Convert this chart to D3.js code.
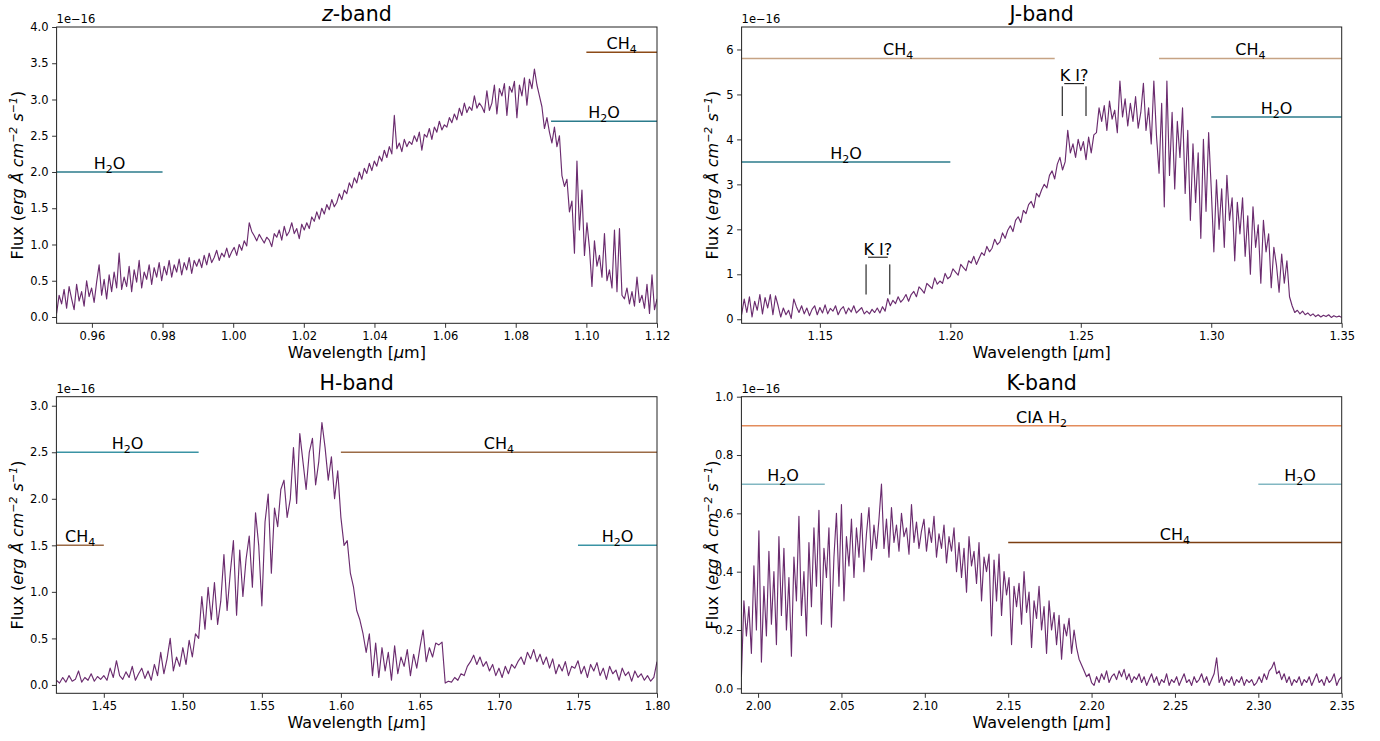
<!DOCTYPE html>
<html>
<head>
<meta charset="utf-8">
<script src="https://cdn.jsdelivr.net/npm/d3@7"></script>
<style>
  body { margin: 0; background: #fff; }
  text { font-family: "DejaVu Sans", sans-serif; }
</style>
</head>
<body>
<svg id="fig" width="1380" height="741"></svg>
<script>
// flux in units of 1e-16, sampled evenly across each band's wavelength range
const zRange = [0.95, 1.12];
const zFlux = [
  0.05,0.30,0.18,0.38,0.12,0.42,0.25,0.10,0.45,0.22,
  0.35,0.15,0.50,0.28,
  0.40,0.20,0.48,0.72,0.30,0.52,0.25,0.58,0.35,0.62,
  0.40,0.88,0.38,0.55,
  0.42,0.70,0.35,0.65,0.48,0.78,0.40,0.62,0.52,0.72,0.45,0.68,0.55,0.75,
  0.50,0.70,0.58,0.78,0.55,0.72,0.62,0.80,0.58,0.75,0.65,0.82,0.60,0.78,0.70,
  0.80,0.68,0.85,0.72,0.88,0.75,0.82,0.92,0.78,0.88,0.83,0.95,0.82,0.90,
  0.96,0.85,1.00,0.92,1.05,0.98,1.30,
  1.18,1.12,1.05,1.14,1.08,1.02,1.10,1.06,
  0.97,1.15,1.10,1.20,1.06,1.25,1.12,1.18,1.30,1.15,1.22,1.08,1.28,1.20,
  1.30,1.22,1.38,1.32,1.45,1.35,1.50,1.42,1.55,1.48,1.62,1.52,1.58,1.70,
  1.62,1.75,1.70,1.85,1.78,1.92,1.85,2.00,1.90,2.05,1.98,2.12,2.02,2.15,
  2.08,2.22,2.15,2.30,2.20,2.35,2.25,2.78,2.32,2.40,2.28,2.45,2.35,2.42,
  2.38,2.50,2.42,2.55,2.30,2.52,2.48,2.60,2.45,2.62,2.55,2.70,2.58,2.65,
  2.62,2.75,2.68,2.80,2.72,2.88,2.78,2.95,2.82,2.90,2.85,3.05,2.88,2.95,
  2.90,2.82,3.12,2.85,2.95,3.20,2.80,3.15,3.05,3.22,2.78,3.18,3.10,3.25,
  2.75,3.20,3.05,3.30,2.92,3.28,3.15,3.42,
  3.20,3.05,2.90,2.60,2.75,2.55,2.40,
  2.62,2.35,2.50,1.95,1.80,1.90,1.45,1.60,0.88,2.15,1.20,1.75,0.85,1.30,
  0.95,0.42,1.05,0.70,0.85,0.55,1.15,0.50,0.65,0.40,1.20,0.35,1.22,0.30,
  0.25,0.40,0.18,0.35,0.15,0.55,0.20,0.30,0.12,0.45,0.05,0.58,0.10,0.25
];

const jRange = [1.12, 1.35];
const jFlux = [
  0.10,0.45,0.15,0.50,0.05,0.40,0.20,0.55,0.12,0.48,0.25,0.55,0.10,0.52,0.30,
  0.05,0.25,0.10,0.20,0.02,0.45,
  0.28,0.15,0.30,0.12,0.25,0.08,0.22,0.30,0.10,0.26,0.14,0.32,0.12,0.24,0.18,0.30,0.10,0.22,0.28,0.12,0.25,0.16,0.30,0.14,0.20,0.26,0.12,
  0.18,0.12,0.22,0.15,0.25,0.14,0.28,0.18,
  0.46,
  0.30,0.42,0.35,0.50,0.38,0.45,0.55,0.40,
  0.55,0.62,0.50,0.72,0.66,0.58,0.80,0.74,0.68,0.92,0.78,0.85,0.80,
  1.02,0.90,0.95,1.12,1.05,0.98,1.22,1.15,1.08,1.30,1.25,1.40,1.22,
  1.35,1.48,1.42,1.62,1.50,1.58,1.78,1.66,1.72,1.92,1.80,1.98,2.08,
  1.95,2.20,2.28,2.15,2.42,2.35,2.55,2.62,2.48,2.80,2.72,2.88,3.00,
  2.92,3.20,3.30,3.12,3.45,3.60,3.32,3.50,
  4.20,
  3.70,3.90,3.60,4.00,3.75,3.95,3.55,4.05,3.70,4.10,
  4.15,4.70,
  4.40,4.75,4.20,4.85,4.45,4.65,4.15,5.30,4.50,4.90,4.30,4.80,4.40,4.95,4.25,4.60,
  5.25,4.20,4.70,3.90,5.30,4.10,3.25,
  4.80,2.50,5.30,3.20,4.60,2.90,4.40,3.60,4.70,2.80,4.20,
  2.20,3.90,2.60,3.70,1.80,4.00,2.40,4.15,2.90,
  1.50,3.10,2.00,2.90,1.60,3.20,2.20,2.70,1.30,2.60,1.90,
  2.70,1.40,2.30,1.00,2.50,1.60,2.10,0.80,2.20,1.50,1.90,0.70,1.60,
  1.20,0.60,1.45,0.80,1.30,0.50,
  0.30,0.15,0.20,
  0.12,0.18,0.10,0.14,0.08,0.12,0.06,0.10,0.05,0.09,0.06,0.10,0.04,0.08,0.05,0.07,0.04
];

const hRange = [1.42, 1.80];
const hFlux = [
  0.05,0.02,0.08,0.03,0.10,0.04,0.06,0.15,0.03,0.08,0.05,0.12,0.04,0.09,0.06,
  0.10,0.05,0.18,0.08,0.26,0.10,0.06,0.14,0.08,0.20,0.05,0.12,0.18,0.07,0.15,
  0.05,0.22,0.10,0.35,0.12,0.28,0.50,0.15,0.30,0.20,
  0.40,0.22,0.48,0.30,0.55,0.50,0.95,0.60,1.05,0.70,
  1.10,0.65,0.90,1.40,0.80,1.20,1.55,0.75,1.45,0.95,
  1.35,1.60,1.05,1.85,1.50,0.85,1.75,2.05,1.20,1.90,
  1.70,2.10,2.20,1.80,2.00,2.55,1.95,2.70,2.40,2.10,
  2.50,2.65,2.15,2.40,2.82,2.55,2.20,2.45,2.00,2.30,
  1.80,1.50,1.55,1.20,1.05,0.80,0.70,0.55,0.35,0.55,
  0.10,0.45,0.08,0.40,0.15,0.35,0.05,0.42,0.12,0.30,0.20,0.38,0.10,0.33,0.18,0.40,0.59,
  0.25,0.40,0.30,0.45,0.43,0.46,
  0.02,
  0.04,0.03,0.08,0.05,0.12,0.10,0.20,
  0.25,0.32,0.22,0.30,0.20,
  0.25,0.15,0.22,0.10,0.18,0.08,0.20,0.12,0.22,0.18,
  0.25,0.30,0.22,0.35,0.28,0.38,0.25,0.33,0.22,0.30,
  0.18,0.28,0.12,0.22,0.15,0.25,0.10,0.20,0.18,0.26,0.12,0.20,0.08,0.22,0.15,
  0.24,0.10,0.18,0.06,0.20,0.12,0.16,0.05,0.18,0.10,0.14,0.04,0.15,0.08,0.12,0.05,0.10,0.04,0.08,0.25
];

const kRange = [1.99, 2.35];
const kFlux = [
  0.04,0.30,0.18,0.28,
  0.12,0.42,0.20,0.54,0.09,
  0.35,0.18,0.47,0.22,0.40,0.15,0.52,0.25,0.48,
  0.20,0.38,0.11,0.45,0.30,0.59,0.25,0.40,0.18,
  0.50,0.28,0.55,0.35,0.61,0.22,0.48,0.38,0.55,0.21,0.45,0.60,0.35,0.63,
  0.30,0.52,0.42,0.58,0.38,0.55,0.45,0.60,0.40,0.53,0.62,0.44,0.56,0.48,0.58,0.70,
  0.48,0.58,0.45,0.62,0.50,0.56,0.47,0.60,0.52,0.55,0.46,0.63,0.50,0.57,0.48,0.54,
  0.58,0.47,0.55,0.50,0.59,0.45,0.53,0.48,0.56,0.43,0.52,0.47,0.55,0.40,
  0.50,0.38,0.48,0.33,0.52,0.42,0.47,0.36,0.50,0.30,0.45,0.40,0.46,0.18,
  0.44,0.30,0.46,0.25,0.40,0.32,0.38,0.15,0.35,0.28,0.36,0.22,0.40,0.26,0.33,0.14,0.30,0.24,0.35,0.20,
  0.28,0.12,0.30,0.20,0.26,0.15,0.25,0.10,0.22,0.18,0.24,0.12,0.20,0.14,0.10,0.08,
  0.06,0.04,0.05,0.02,
  0.01,0.04,0.02,0.05,0.03,0.06,0.02,0.04,0.05,0.03,0.06,0.04,0.065,0.03,0.05,0.02,0.04,0.03,0.05,0.02,
  0.04,0.01,0.03,0.05,0.02,0.04,0.01,0.03,0.02,0.05,0.01,0.03,0.02,0.04,0.01,0.03,0.05,0.02,0.03,0.01,
  0.04,0.02,0.03,0.05,0.02,0.04,0.01,0.03,0.05,0.105,0.02,0.04,0.01,0.03,0.02,0.04,0.01,0.03,0.02,0.04,
  0.01,0.03,0.02,0.03,0.01,0.02,0.04,0.02,0.05,0.03,0.06,0.07,0.09,0.05,0.06,0.03,0.05,0.02,0.04,0.01,
  0.03,0.02,0.04,0.01,0.03,0.02,0.04,0.01,0.03,0.05,0.02,0.03,0.01,0.04,0.02,0.03,0.05,0.01,0.03,0.04
];

// tick values
const zXTicks = [0.96, 0.98, 1.00, 1.02, 1.04, 1.06, 1.08, 1.10, 1.12];
const zYTicks = [0.0, 0.5, 1.0, 1.5, 2.0, 2.5, 3.0, 3.5, 4.0];
const jXTicks = [1.15, 1.20, 1.25, 1.30, 1.35];
const jYTicks = [0, 1, 2, 3, 4, 5, 6];
const hXTicks = [1.45, 1.50, 1.55, 1.60, 1.65, 1.70, 1.75, 1.80];
const hYTicks = [0.0, 0.5, 1.0, 1.5, 2.0, 2.5, 3.0];
const kXTicks = [2.00, 2.05, 2.10, 2.15, 2.20, 2.25, 2.30, 2.35];
const kYTicks = [0.0, 0.2, 0.4, 0.6, 0.8, 1.0];

// absorption bands: [start, end, level, label, label position, kind]
const zBands = [
  [0.95, 0.98, 2.0, "H_2O", 0.965, "h2o"],
  [1.10, 1.12, 3.65, "CH_4", 1.11, "ch4"],
  [1.09, 1.12, 2.7, "H_2O", 1.105, "h2o"]
];
const jBands = [
  [1.12, 1.24, 5.8, "CH_4", 1.18, "ch4light"],
  [1.28, 1.35, 5.8, "CH_4", 1.315, "ch4light"],
  [1.12, 1.20, 3.5, "H_2O", 1.16, "h2o"],
  [1.30, 1.35, 4.5, "H_2O", 1.325, "h2o"]
];
const hBands = [
  [1.42, 1.51, 2.5, "H_2O", 1.465, "h2oH"],
  [1.60, 1.80, 2.5, "CH_4", 1.70, "ch4H"],
  [1.42, 1.45, 1.5, "CH_4", 1.435, "ch4H"],
  [1.75, 1.80, 1.5, "H_2O", 1.775, "h2oH"]
];
const kBands = [
  [1.99, 2.35, 0.9, "CIA H_2", 2.17, "cia"],
  [1.99, 2.04, 0.7, "H_2O", 2.015, "h2olight"],
  [2.30, 2.35, 0.7, "H_2O", 2.325, "h2olight"],
  [2.15, 2.35, 0.5, "CH_4", 2.25, "ch4dark"]
];
// K I doublets in J band: [line1, line2, bottom, top, bar level]
const jKI = [
  [1.1677, 1.1768, 0.55, 1.22, 1.38],
  [1.2429, 1.2520, 4.52, 5.18, 5.24]
];

const bandColors = {
  h2o: "#2b7b8b", h2oH: "#3a93a4", h2olight: "#82b7c2",
  ch4: "#8c4a17", ch4light: "#c6a384", ch4H: "#9b6b46", ch4dark: "#7c3e12",
  cia: "#e38c5c"
};

const panels = [
  {id: "z", title: "z-band", flux: zFlux, range: zRange, xDomain: [0.95, 1.12], yDomain: [-0.087, 4.0],
   xTicks: zXTicks, yTicks: zYTicks, yFmt: ".1f", box: [56.6, 27, 657, 323.3], ylabX: 17, bands: zBands},
  {id: "j", title: "J-band", flux: jFlux, range: jRange, xDomain: [1.12, 1.35], yDomain: [-0.09, 6.5],
   xTicks: jXTicks, yTicks: jYTicks, yFmt: "d", box: [741.6, 27, 1341.7, 323.3], ylabX: 712, bands: jBands, ki: jKI},
  {id: "h", title: "H-band", flux: hFlux, range: hRange, xDomain: [1.42, 1.80], yDomain: [-0.09, 3.097],
   xTicks: hXTicks, yTicks: hYTicks, yFmt: ".1f", box: [56.4, 396.7, 657, 693.3], ylabX: 17, bands: hBands},
  {id: "k", title: "K-band", flux: kFlux, range: kRange, xDomain: [1.99, 2.35], yDomain: [-0.017, 1.0],
   xTicks: kXTicks, yTicks: kYTicks, yFmt: ".1f", box: [741.4, 396.7, 1341.7, 693.3], ylabX: 712, bands: kBands}
];

const svg = d3.select("#fig");
const defs = svg.append("defs");

function subText(sel, label) {
  // "H_2O" -> H, subscript 2, O
  const parts = label.split("_");
  sel.append("tspan").text(parts[0]);
  for (let k = 1; k < parts.length; k++) {
    sel.append("tspan").attr("font-size", 11).attr("dy", 4).text(parts[k][0]);
    if (parts[k].length > 1) sel.append("tspan").attr("dy", -4).text(parts[k].slice(1));
  }
}

function drawPanel(p) {
  const [L, T, R, B] = p.box;
  const x = d3.scaleLinear().domain(p.xDomain).range([L, R]);
  const y = d3.scaleLinear().domain(p.yDomain).range([B, T]);
  const g = svg.append("g");

  defs.append("clipPath").attr("id", "clip-" + p.id)
    .append("rect").attr("x", L).attr("y", T).attr("width", R - L).attr("height", B - T);

  const n = p.flux.length;
  const step = (p.range[1] - p.range[0]) / (n - 1);
  const pts = p.flux.map((f, i) => [p.range[0] + i * step, f]);

  g.append("path").datum(pts)
    .attr("clip-path", "url(#clip-" + p.id + ")")
    .attr("fill", "none")
    .attr("stroke", "#6b2c6f")
    .attr("stroke-width", 1.15)
    .attr("stroke-linejoin", "round")
    .attr("d", d3.line().x(d => x(d[0])).y(d => y(d[1])));

  p.bands.forEach(b => {
    g.append("line")
      .attr("x1", x(b[0])).attr("x2", x(b[1]))
      .attr("y1", y(b[2])).attr("y2", y(b[2]))
      .attr("stroke", bandColors[b[5]]).attr("stroke-width", 1.5);
    const t = g.append("text")
      .attr("x", x(b[4])).attr("y", y(b[2]) - 3)
      .attr("text-anchor", "middle").attr("font-size", 16).attr("fill", "#000");
    subText(t, b[3]);
  });

  if (p.ki) {
    p.ki.forEach(k => {
      [k[0], k[1]].forEach(w => {
        g.append("line").attr("x1", x(w)).attr("x2", x(w))
          .attr("y1", y(k[2])).attr("y2", y(k[3]))
          .attr("stroke", "#000").attr("stroke-width", 1);
      });
      g.append("line")
        .attr("x1", x(k[0]) + 2).attr("x2", x(k[1]) - 2)
        .attr("y1", y(k[4])).attr("y2", y(k[4]))
        .attr("stroke", "#000").attr("stroke-width", 1);
      g.append("text")
        .attr("x", (x(k[0]) + x(k[1])) / 2).attr("y", y(k[4]) - 2.5)
        .attr("text-anchor", "middle").attr("font-size", 16)
        .text("K I?");
    });
  }

  const xAxis = g.append("g").attr("transform", "translate(0," + B + ")")
    .call(d3.axisBottom(x).tickValues(p.xTicks).tickFormat(d3.format(".2f"))
      .tickSizeOuter(0).tickSize(4.5).tickPadding(4.5));
  const yAxis = g.append("g").attr("transform", "translate(" + L + ",0)")
    .call(d3.axisLeft(y).tickValues(p.yTicks).tickFormat(d3.format(p.yFmt))
      .tickSizeOuter(0).tickSize(4.5).tickPadding(3.5));
  [xAxis, yAxis].forEach(a => {
    a.attr("font-size", 11.5).attr("font-family", "DejaVu Sans");
    a.select(".domain").remove();
    a.selectAll(".tick line").attr("stroke", "#000").attr("stroke-width", 0.8);
    a.selectAll(".tick text").attr("fill", "#000");
  });

  g.append("rect").attr("x", L).attr("y", T).attr("width", R - L).attr("height", B - T)
    .attr("fill", "none").attr("stroke", "#222").attr("stroke-width", 1);

  // offset text
  g.append("text").attr("x", L).attr("y", T - 4).attr("font-size", 11.5).text("1e\u221216");

  // title
  const cx = (L + R) / 2;
  const title = g.append("text").attr("x", cx).attr("y", T - 6.5)
    .attr("text-anchor", "middle").attr("font-size", 20.5);
  if (p.id === "z") {
    title.append("tspan").attr("font-style", "italic").text("z");
    title.append("tspan").text("-band");
  } else {
    title.text(p.title);
  }

  // x label
  const xl = g.append("text").attr("x", cx).attr("y", B + 35)
    .attr("text-anchor", "middle").attr("font-size", 16);
  xl.append("tspan").text("Wavelength [");
  xl.append("tspan").attr("font-style", "italic").text("\u03bc");
  xl.append("tspan").text("m]");

  // y label
  const yl = g.append("text")
    .attr("transform", "translate(" + p.ylabX + "," + ((T + B) / 2) + ") rotate(-90)")
    .attr("text-anchor", "middle").attr("dy", "0.35em").attr("font-size", 16);
  yl.append("tspan").text("Flux (");
  yl.append("tspan").attr("font-style", "italic").text("erg \u00c5 cm");
  yl.append("tspan").attr("font-style", "italic").attr("font-size", 11).attr("dy", -6).text("\u22122");
  yl.append("tspan").attr("font-style", "italic").attr("dy", 6).text(" s");
  yl.append("tspan").attr("font-style", "italic").attr("font-size", 11).attr("dy", -6).text("\u22121");
  yl.append("tspan").attr("dy", 6).text(")");
}

panels.forEach(drawPanel);
</script>
</body>
</html>
